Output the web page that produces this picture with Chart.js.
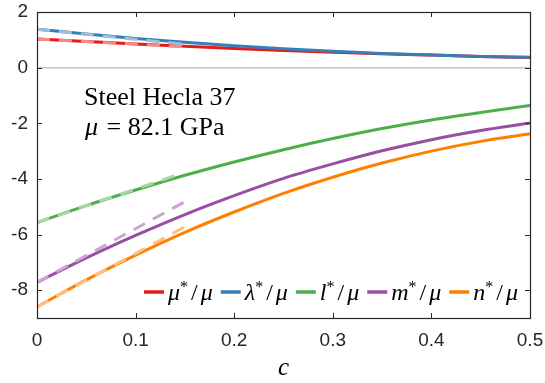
<!DOCTYPE html>
<html>
<head>
<meta charset="utf-8">
<script src="https://cdn.jsdelivr.net/npm/chart.js@4.4.1/dist/chart.umd.min.js"></script>
<style>
  html, body { margin: 0; padding: 0; background: #fff; }
  #wrap { width: 545px; height: 383px; }
</style>
</head>
<body>
<div id="wrap"><canvas id="elChart"></canvas></div>
<script>
// values
const cValues = [0, 0.05, 0.1, 0.15, 0.2, 0.25, 0.3, 0.35, 0.4, 0.45, 0.5];
const muStar     = [1.03, 0.94, 0.85, 0.77, 0.69, 0.62, 0.555, 0.50, 0.45, 0.40, 0.36];
const lambdaStar = [1.38, 1.21, 1.05, 0.91, 0.79, 0.68, 0.59, 0.51, 0.45, 0.40, 0.37];
const lStar      = [-5.57, -4.96, -4.40, -3.87, -3.39, -2.95, -2.55, -2.19, -1.88, -1.61, -1.36];
const mStar      = [-7.72, -6.84, -6.03, -5.28, -4.60, -3.98, -3.46, -2.99, -2.59, -2.26, -1.99];
const nStar      = [-8.60, -7.63, -6.74, -5.92, -5.19, -4.52, -3.94, -3.43, -3.00, -2.65, -2.38];

// small-c approximations (dashed, straight)
const approxC       = [0, 0.15];
const muApprox      = [1.03, 0.75];
const lambdaApprox  = [1.38, 0.84];
const lApproxC      = [0, 0.142];
const lApprox       = [-5.57, -3.86];
const mApprox       = [-7.72, -4.82];
const nApprox       = [-8.60, -5.72];

const seriesNames  = ["μ", "λ", "l", "m", "n"];
const seriesColors = ["#e41a1c", "#377eb8", "#4daf4a", "#984ea3", "#ff7f00"];
const lightColors  = ["#f28c8d", "#9bbedb", "#a6d7a4", "#cba6d1", "#ffbf7f"];

const xTicks = [0, 0.1, 0.2, 0.3, 0.4, 0.5];
const yTicks = [-8, -6, -4, -2, 0, 2];

const axisColor = "#262626";

function pts(xs, ys) {
  return xs.map((x, i) => ({ x: x, y: ys[i] }));
}

const solidData = [muStar, lambdaStar, lStar, mStar, nStar];
const approxData = [
  pts(approxC, muApprox),
  pts(approxC, lambdaApprox),
  pts(lApproxC, lApprox),
  pts(approxC, mApprox),
  pts(approxC, nApprox)
];

const datasets = [];
solidData.forEach((ys, i) => {
  datasets.push({
    label: seriesNames[i] + "*/μ",
    data: pts(cValues, ys),
    borderColor: seriesColors[i],
    borderWidth: 3,
    pointRadius: 0,
    cubicInterpolationMode: "monotone",
    order: i === 0 ? 2 : 1
  });
});
approxData.forEach((d, i) => {
  datasets.push({
    label: seriesNames[i] + " approx",
    data: d,
    borderColor: lightColors[i],
    borderWidth: 3,
    borderDash: [13, 9],
    pointRadius: 0,
    order: 0
  });
});

// frame with inward ticks, zero line, text and legend
const framePlugin = {
  id: "frame",
  beforeDatasetsDraw(chart) {
    const ctx = chart.ctx, a = chart.chartArea;
    const y0 = chart.scales.y.getPixelForValue(0);
    ctx.save();
    ctx.strokeStyle = "#c4c4c4";
    ctx.lineWidth = 1.5;
    ctx.beginPath();
    ctx.moveTo(a.left, y0);
    ctx.lineTo(a.right, y0);
    ctx.stroke();
    ctx.restore();
  },
  afterDatasetsDraw(chart) {
    const ctx = chart.ctx, a = chart.chartArea;
    const xs = chart.scales.x, ys = chart.scales.y;
    const tl = 5;
    ctx.save();
    ctx.strokeStyle = axisColor;
    ctx.lineWidth = 1;
    ctx.beginPath();
    xTicks.forEach(v => {
      const px = Math.round(xs.getPixelForValue(v)) + 0.5;
      ctx.moveTo(px, a.bottom); ctx.lineTo(px, a.bottom - tl);
      ctx.moveTo(px, a.top); ctx.lineTo(px, a.top + tl);
    });
    yTicks.forEach(v => {
      const py = Math.round(ys.getPixelForValue(v)) + 0.5;
      ctx.moveTo(a.left, py); ctx.lineTo(a.left + tl, py);
      ctx.moveTo(a.right, py); ctx.lineTo(a.right - tl, py);
    });
    ctx.stroke();
    ctx.lineWidth = 1.2;
    ctx.strokeRect(Math.round(a.left) + 0.5, Math.round(a.top) + 0.5,
                   Math.round(a.right - a.left), Math.round(a.bottom - a.top));

    // annotation
    ctx.fillStyle = "#000";
    ctx.textBaseline = "alphabetic";
    ctx.textAlign = "left";
    ctx.font = "26px 'Liberation Serif'";
    ctx.fillText("Steel Hecla 37", 84, 105);
    ctx.font = "italic 26px 'Liberation Serif'";
    ctx.fillText("μ", 85, 135);
    const mw = ctx.measureText("μ").width;
    ctx.font = "26px 'Liberation Serif'";
    ctx.fillText(" = 82.1 GPa", 85 + mw + 2, 135);

    // legend
    const legY = 292;
    const sampleW = 20, gap1 = 4, gap2 = 8;
    const big = "italic 24px 'Liberation Serif'";
    const up = "24px 'Liberation Serif'";
    const small = "16px 'Liberation Serif'";
    function labelParts(name) {
      return [
        { t: name, f: big, dy: 0, pad: 0 },
        { t: "*", f: small, dy: -8, pad: 3 },
        { t: "/", f: up, dy: 0, pad: 3 },
        { t: "μ", f: big, dy: 0, pad: 0 }
      ];
    }
    function partsWidth(parts) {
      let w = 0;
      parts.forEach(p => { ctx.font = p.f; w += ctx.measureText(p.t).width + p.pad; });
      return w;
    }
    let total = 0;
    const widths = seriesNames.map(n => partsWidth(labelParts(n)));
    widths.forEach(w => { total += sampleW + gap1 + w; });
    total += gap2 * (seriesNames.length - 1);
    let x = a.right - 12 - total;
    seriesNames.forEach((n, i) => {
      ctx.strokeStyle = seriesColors[i];
      ctx.lineWidth = 3.5;
      ctx.beginPath();
      ctx.moveTo(x, legY); ctx.lineTo(x + sampleW, legY);
      ctx.stroke();
      x += sampleW + gap1;
      ctx.fillStyle = "#000";
      labelParts(n).forEach(p => {
        ctx.font = p.f;
        ctx.fillText(p.t, x, legY + 8 + p.dy);
        x += ctx.measureText(p.t).width + p.pad;
      });
      x += gap2;
    });
    ctx.restore();
  }
};

const ctx = document.getElementById("elChart").getContext("2d");
new Chart(ctx, {
  type: "line",
  data: { datasets: datasets },
  options: {
    responsive: true,
    maintainAspectRatio: false,
    animation: false,
    layout: { padding: { top: 12, right: 15, left: 0, bottom: 0 } },
    plugins: {
      legend: { display: false },
      tooltip: { enabled: false }
    },
    scales: {
      x: {
        type: "linear",
        min: 0,
        max: 0.5,
        afterBuildTicks: s => { s.ticks = xTicks.map(v => ({ value: v })); },
        afterFit: s => { s.height = 65; s.paddingLeft = 0; s.paddingRight = 0; },
        grid: { display: false, drawTicks: false },
        border: { display: false },
        ticks: {
          color: axisColor,
          font: { family: "'Liberation Sans'", size: 19 },
          padding: 11,
          maxRotation: 0,
          callback: v => String(v)
        },
        title: {
          display: true,
          text: "c",
          color: "#000",
          font: { family: "'Liberation Serif'", size: 25, style: "italic" },
          padding: { top: 0, bottom: 0 }
        }
      },
      y: {
        min: -9,
        max: 2,
        afterBuildTicks: s => { s.ticks = yTicks.map(v => ({ value: v })); },
        afterFit: s => { s.width = 37; s.paddingTop = 0; s.paddingBottom = 0; },
        grid: { display: false, drawTicks: false },
        border: { display: false },
        ticks: {
          color: axisColor,
          font: { family: "'Liberation Sans'", size: 19 },
          padding: 9,
          callback: v => String(v)
        }
      }
    }
  },
  plugins: [framePlugin]
});
</script>
</body>
</html>
